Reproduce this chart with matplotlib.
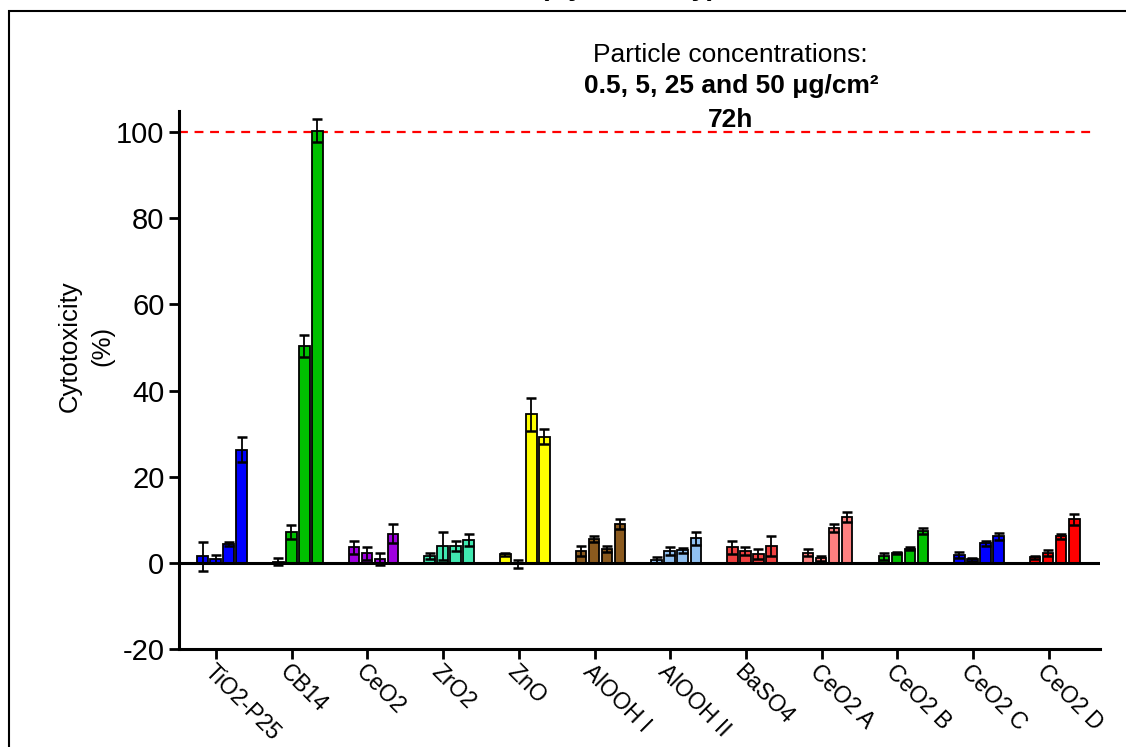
import matplotlib
matplotlib.use("Agg")
import matplotlib.pyplot as plt
from matplotlib.patches import Rectangle
import numpy as np

plt.rcParams['font.family'] = ['Liberation Sans', 'DejaVu Sans']
plt.rcParams['axes.unicode_minus'] = False

particles = ["TiO2-P25", "CB14", "CeO2", "ZrO2", "ZnO", "AlOOH I",
             "AlOOH II", "BaSO4", "CeO2 A", "CeO2 B", "CeO2 C", "CeO2 D"]
colors = ["#0000FF", "#00C000", "#A000E0", "#40E8B0", "#FFFF00", "#8B5A1E",
          "#90C0F0", "#F04040", "#FF8080", "#00C000", "#0000FF", "#FF0000"]

# cytotoxicity (%) at 0.5, 5, 25, 50 ug/cm2
means = [
    [1.5, 0.9, 4.4, 26.2],
    [0.3, 7.2, 50.4, 100.3],
    [3.6, 2.2, 0.8, 6.8],
    [1.6, 3.9, 3.9, 5.3],
    [2.0, -0.3, 34.5, 29.3],
    [2.7, 5.6, 3.3, 9.0],
    [0.6, 2.8, 2.9, 5.7],
    [3.6, 2.8, 2.0, 3.9],
    [2.4, 1.1, 8.1, 10.6],
    [1.5, 2.3, 3.3, 7.5],
    [1.9, 0.8, 4.5, 6.2],
    [1.3, 2.2, 6.2, 10.1],
]
errs = [
    [3.4, 1.0, 0.5, 2.9],
    [0.9, 1.7, 2.5, 2.7],
    [1.5, 1.5, 1.4, 2.3],
    [0.8, 3.3, 1.2, 1.5],
    [0.4, 0.9, 3.8, 1.7],
    [1.2, 0.7, 0.7, 1.2],
    [0.7, 0.9, 0.5, 1.5],
    [1.5, 0.9, 1.1, 2.3],
    [0.7, 0.6, 0.9, 1.1],
    [0.8, 0.3, 0.3, 0.7],
    [0.7, 0.4, 0.5, 0.8],
    [0.3, 0.7, 0.6, 1.2],
]

fig = plt.figure(figsize=(11.26, 7.47), dpi=100)
ax = fig.add_axes([0.159, 0.1312, 0.818, 0.7208])

x = np.arange(len(particles))
step = 0.172
width = 0.14
for i in range(len(particles)):
    for j in range(4):
        xp = x[i] + 0.08 + (j - 1.5) * step
        ax.bar(xp, means[i][j], width=width, color=colors[i],
               edgecolor="black", linewidth=1.3, zorder=2)
        ax.errorbar(xp, means[i][j], yerr=errs[i][j], fmt="none",
                    ecolor="black", elinewidth=1.3, capsize=3.5,
                    capthick=1.8, zorder=3)

ax.axhline(0, color="black", linewidth=2.2, zorder=4)
ax.plot([-0.49, 11.59], [100, 100], color="red", linestyle=(0, (4, 3)),
        linewidth=1.6, zorder=1)

ax.set_xlim(-0.49, 11.68)
ax.set_ylim(-20, 105)
ax.set_yticks([-20, 0, 20, 40, 60, 80, 100])
ax.set_xticks(x)
ax.set_xticklabels(particles, rotation=-45, ha="left", va="top",
                   rotation_mode="anchor", fontsize=16.5)
ax.tick_params(axis="y", labelsize=21, width=2, length=7)
ax.tick_params(axis="x", width=2, length=7, pad=1)
for s in ["top", "right"]:
    ax.spines[s].set_visible(False)
for s in ["left", "bottom"]:
    ax.spines[s].set_linewidth(2.2)

fig.text(86 / 1126, 0.537, "Cytotoxicity\n(%)", rotation=90,
         ha="center", va="center", multialignment="center",
         fontsize=18.5, linespacing=1.45)

fig.text(0.649, 0.917, "Particle concentrations:",
         ha="center", va="baseline", fontsize=19)
fig.text(0.649, 0.8755, "0.5, 5, 25 and 50 μg/cm²",
         ha="center", va="baseline", fontsize=19, fontweight="bold")
fig.text(0.649, 0.830, "72h",
         ha="center", va="baseline", fontsize=19, fontweight="bold")

# title of the original figure, cropped off at the top edge
fig.text(0.558, 1.007, "(Cytotoxicity)", ha="center", va="baseline",
         fontsize=20, fontweight="bold")

fig.patches.append(Rectangle((9 / 1126, -0.2), 2, 1.2 - 11 / 747,
                             transform=fig.transFigure, fill=False,
                             edgecolor="black", linewidth=1.5))

fig.savefig("out.png", dpi=100)
